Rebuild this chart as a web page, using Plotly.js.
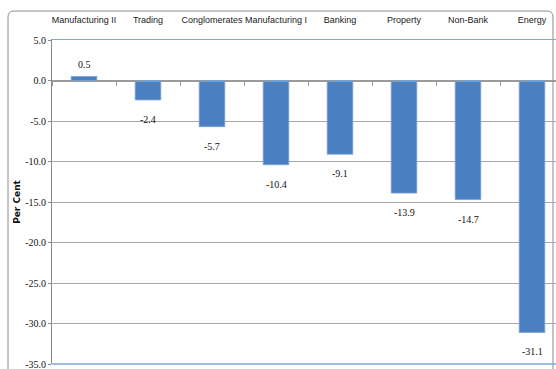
<!DOCTYPE html>
<html>
<head>
<meta charset="utf-8">
<script src="https://cdn.plot.ly/plotly-3.0.1.min.js"></script>
<style>
  html, body { margin: 0; padding: 0; background: #ffffff; overflow: hidden; }
  #chart { width: 556px; height: 369px; }
</style>
</head>
<body>
<div id="chart"></div>
<script>
// Sector returns, per cent
const sectors = ["Manufacturing II", "Trading", "Conglomerates", "Manufacturing I",
                 "Banking", "Property", "Non-Bank", "Energy"];
const returns = [0.5, -2.4, -5.7, -10.4, -9.1, -13.9, -14.7, -31.1];
const yTicks = [5, 0, -5, -10, -15, -20, -25, -30, -35];

const numFont = { family: "Liberation Serif, Times New Roman, serif", size: 10, color: "#111111" };
const catFont = { family: "Liberation Sans Narrow, Arial Narrow, Liberation Sans, Arial, sans-serif", size: 9, color: "#1a1a1a" };

const bars = {
  type: "bar",
  x: sectors,
  y: returns,
  xaxis: "x",
  yaxis: "y",
  marker: { color: "#4a7fc1", line: { color: "#7aa3d6", width: 0.8 } },
  hoverinfo: "x+y",
  showlegend: false
};

// carrier trace for the top category axis
const topCarrier = {
  type: "scatter",
  mode: "markers",
  x: sectors,
  y: sectors.map(() => null),
  xaxis: "x2",
  yaxis: "y",
  hoverinfo: "skip",
  showlegend: false
};

// value labels at the end of each bar
const valueLabels = sectors.map((s, i) => ({
  x: s,
  y: returns[i],
  xref: "x",
  yref: "y",
  text: returns[i].toFixed(1),
  showarrow: false,
  font: numFont,
  yanchor: returns[i] >= 0 ? "bottom" : "top",
  yshift: returns[i] >= 0 ? 4 : -12
}));

// rounded outer frame
const fx0 = -0.0873, fx1 = 0.994, fy0 = -0.04, fy1 = 1.0895, rx = 0.012, ry = 0.019;
const framePath =
  `M ${fx0} ${fy0} L ${fx0} ${fy1 - ry} Q ${fx0} ${fy1} ${fx0 + rx} ${fy1} ` +
  `L ${fx1 - rx} ${fy1} Q ${fx1} ${fy1} ${fx1} ${fy1 - ry} L ${fx1} ${fy0}`;

const layout = {
  width: 556,
  height: 369,
  margin: { l: 52, r: 0, t: 40, b: 5, pad: 0 },
  paper_bgcolor: "#ffffff",
  plot_bgcolor: "#ffffff",
  bargap: 0.6,
  xaxis: {
    type: "category",
    range: [-0.5, 7.375],
    anchor: "free",
    position: 0.875,
    showline: true,
    linecolor: "#9a9a9a",
    linewidth: 1,
    ticks: "outside",
    tickson: "boundaries",
    ticklen: 4,
    tickcolor: "#9a9a9a",
    showticklabels: false,
    showgrid: false,
    zeroline: false,
    fixedrange: true
  },
  xaxis2: {
    type: "category",
    overlaying: "x",
    matches: "x",
    side: "top",
    anchor: "y",
    showline: true,
    linecolor: "#7ea6d8",
    linewidth: 1.2,
    ticks: "outside",
    ticklen: 12,
    tickcolor: "rgba(0,0,0,0)",
    tickangle: 0,
    tickfont: catFont,
    ticklabeloverflow: "allow",
    showgrid: false,
    zeroline: false
  },
  yaxis: {
    range: [-35, 5],
    tickvals: yTicks,
    ticktext: yTicks.map(v => v.toFixed(1)),
    tickfont: numFont,
    ticklabeloverflow: "allow",
    ticks: "outside",
    ticklen: 3,
    tickcolor: "#8a8a8a",
    showline: true,
    linecolor: "#8a8a8a",
    linewidth: 1,
    showgrid: true,
    gridcolor: "#a8a8a8",
    gridwidth: 1,
    zeroline: true,
    zerolinecolor: "#9a9a9a",
    zerolinewidth: 1,
    title: {
      text: "Per Cent",
      font: { family: "DejaVu Sans, Verdana, sans-serif", size: 9, color: "#111111", weight: "bold" },
      standoff: 3
    },
    fixedrange: true
  },
  shapes: [
    {
      type: "path", xref: "paper", yref: "paper", path: framePath,
      line: { color: "#8c8c8c", width: 1 }, layer: "below"
    },
    {
      type: "line", xref: "paper", yref: "paper", x0: 0, x1: 1, y0: 0, y1: 0,
      line: { color: "#7ea6d8", width: 1.5 }, layer: "above"
    }
  ],
  annotations: valueLabels
};

Plotly.newPlot("chart", [bars, topCarrier], layout, { displayModeBar: false, staticPlot: true });
</script>
</body>
</html>
